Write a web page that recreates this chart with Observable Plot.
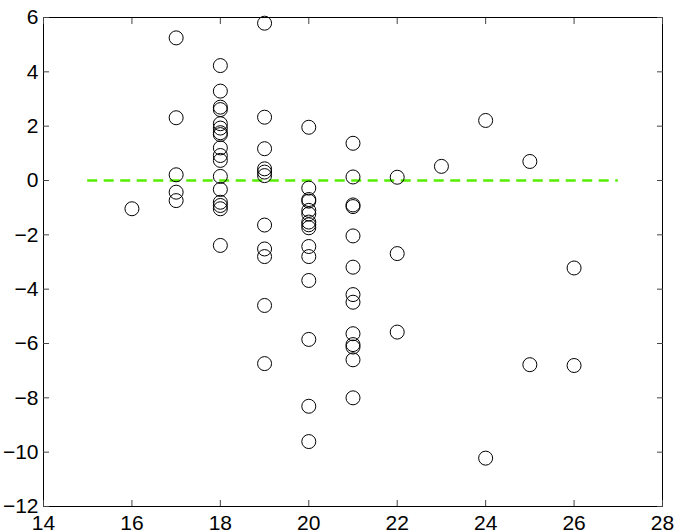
<!DOCTYPE html>
<html>
<head>
<meta charset="utf-8">
<script src="https://cdn.jsdelivr.net/npm/d3@7"></script>
<script src="https://cdn.jsdelivr.net/npm/@observablehq/plot@0.6"></script>
<style>
  html, body { margin: 0; padding: 0; background: #fff; overflow: hidden; }
  #chart svg { display: block; }
</style>
</head>
<body>
<div id="chart"></div>
<script>
// x positions (columns) and the y values observed at each
const columns = [16, 17, 18, 19, 20, 21, 22, 23, 24, 25, 26];
const values = [
  [-1.04],
  [5.25, 2.31, 0.21, -0.43, -0.74],
  [4.23, 3.29, 2.70, 2.61, 2.09, 1.93, 1.76, 1.69, 1.20, 0.92, 0.74, 0.15, -0.33, -0.80, -0.92, -1.04, -2.39],
  [5.79, 2.33, 1.17, 0.43, 0.31, 0.18, -1.64, -2.52, -2.80, -4.60, -6.74],
  [1.96, -0.28, -0.70, -0.76, -1.10, -1.23, -1.53, -1.63, -1.74, -2.43, -2.80, -3.68, -5.85, -8.31, -9.61],
  [1.37, 0.13, -0.90, -0.96, -2.04, -3.19, -4.20, -4.48, -5.64, -6.04, -6.13, -6.60, -8.00],
  [0.12, -2.69, -5.58],
  [0.52],
  [2.21, -10.22],
  [0.70, -6.78],
  [-3.22, -6.81]
];
const xTicks = [14, 16, 18, 20, 22, 24, 26, 28];
const yTicks = [-12, -10, -8, -6, -4, -2, 0, 2, 4, 6];
const refLine = [{x1: 15, x2: 27, y: 0}];

const points = columns.flatMap((c, i) => values[i].map(v => ({x: c, y: v})));
const minus = d => String(d).replace("-", "\u2212");

const chart = Plot.plot({
  width: 681,
  height: 532,
  marginLeft: 43,
  marginRight: 19,
  marginTop: 17,
  marginBottom: 26,
  style: {fontFamily: "'Liberation Sans', Arial, sans-serif", fontSize: "21px", background: "#fff", color: "#000", overflow: "visible"},
  x: {domain: [14, 28], label: null},
  y: {domain: [-12, 6], label: null},
  marks: [
    Plot.ruleY(refLine, {y: "y", x1: "x1", x2: "x2", stroke: "#55ee00", strokeWidth: 2.6, strokeDasharray: "10,6.5"}),
    Plot.dot(points, {x: "x", y: "y", r: 7, stroke: "#000", strokeWidth: 1, fill: "none"}),
    Plot.frame({stroke: "#000", strokeWidth: 1}),
    Plot.axisX(xTicks, {anchor: "bottom", tickSize: -6, tickFormat: () => "", label: null, stroke: "#444"}),
    Plot.axisX(xTicks, {anchor: "top", tickSize: -6, tickFormat: () => "", label: null, stroke: "#444"}),
    Plot.axisY(yTicks, {anchor: "left", tickSize: -6, tickFormat: () => "", label: null, stroke: "#444"}),
    Plot.axisY(yTicks, {anchor: "right", tickSize: -6, tickFormat: () => "", label: null, stroke: "#444"}),
    Plot.axisX(xTicks, {anchor: "bottom", tickSize: 0, tickPadding: 9, tickFormat: minus, label: null, fill: "#000"}),
    Plot.axisY(yTicks, {anchor: "left", tickSize: 0, tickPadding: 5, tickFormat: minus, label: null, fill: "#000"})
  ]
});
document.getElementById("chart").appendChild(chart);
</script>
</body>
</html>
